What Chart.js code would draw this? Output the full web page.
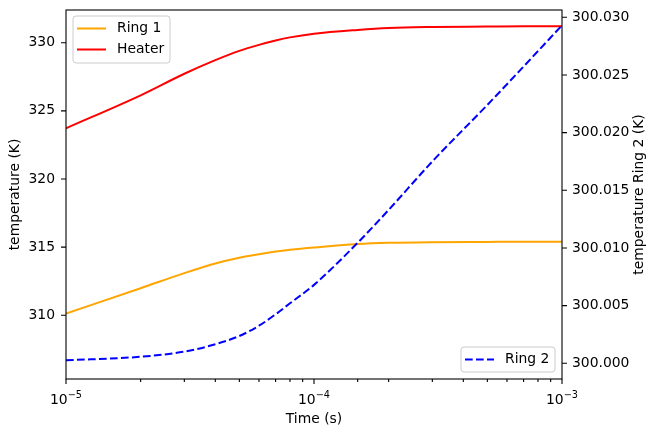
<!DOCTYPE html>
<html>
<head>
<meta charset="utf-8">
<script src="https://cdn.jsdelivr.net/npm/chart.js@4"></script>
<style>
  html, body { margin: 0; padding: 0; background: #fff; }
</style>
</head>
<body>
<canvas id="chart" width="657" height="437"></canvas>
<script>
// time samples (s) and temperatures
const timeS  = [1e-5, 2e-5, 3e-5, 4e-5, 5e-5, 6e-5, 7e-5, 8e-5, 1e-4, 1.5e-4, 2e-4, 3e-4, 5e-4, 7e-4, 1e-3];
const heater = [323.72, 326.14, 327.72, 328.72, 329.4, 329.84, 330.16, 330.39, 330.66, 330.94, 331.08, 331.15, 331.18, 331.2, 331.2];
const ring1  = [310.12, 311.98, 313.09, 313.8, 314.22, 314.48, 314.67, 314.8, 314.97, 315.22, 315.31, 315.36, 315.38, 315.39, 315.39];
const ring2  = [300.00026, 300.00057, 300.00101, 300.00165, 300.00237, 300.00326, 300.00425, 300.0052, 300.0068, 300.01045, 300.0133, 300.0175, 300.0224, 300.02573, 300.0293];

const leftTicks  = [310, 315, 320, 325, 330];
const rightTicks = [300.000, 300.005, 300.010, 300.015, 300.020, 300.025, 300.030];

const xTitle = 'Time (s)';
const yTitle = 'temperature (K)';
const y2Title = 'temperature Ring 2 (K)';

const FONT_SIZE = 13.9;
const FONT = FONT_SIZE + 'px "DejaVu Sans"';
const SUP_FONT = (FONT_SIZE * 0.7).toFixed(2) + 'px "DejaVu Sans"';

function isMajor(v) {
  const e = Math.log10(v);
  return Math.abs(e - Math.round(e)) < 1e-6;
}

function pairs(ys) {
  return timeS.map((t, i) => ({ x: t, y: ys[i] }));
}

// draws the frame, tick marks, 10^n labels and the right axis title
const frameAndTicks = {
  id: 'frameAndTicks',
  afterDatasetsDraw(chart) {
    const { ctx, chartArea: a, scales } = chart;
    ctx.save();
    ctx.strokeStyle = '#000';
    ctx.lineWidth = 1.1;
    ctx.strokeRect(a.left, a.top, a.right - a.left, a.bottom - a.top);
    ctx.beginPath();
    scales.x.ticks.forEach(t => {
      const px = scales.x.getPixelForValue(t.value);
      const len = isMajor(t.value) ? 5 : 3;
      ctx.moveTo(px, a.bottom);
      ctx.lineTo(px, a.bottom + len);
    });
    scales.y.ticks.forEach(t => {
      const py = scales.y.getPixelForValue(t.value);
      ctx.moveTo(a.left - 5, py);
      ctx.lineTo(a.left, py);
    });
    scales.y2.ticks.forEach(t => {
      const py = scales.y2.getPixelForValue(t.value);
      ctx.moveTo(a.right, py);
      ctx.lineTo(a.right + 5, py);
    });
    ctx.stroke();

    ctx.fillStyle = '#000';
    ctx.textBaseline = 'alphabetic';
    ctx.textAlign = 'left';
    scales.x.ticks.forEach(t => {
      if (!isMajor(t.value)) return;
      const px = scales.x.getPixelForValue(t.value);
      const exp = '\u2212' + String(-Math.round(Math.log10(t.value)));
      ctx.font = FONT;
      const w1 = ctx.measureText('10').width;
      ctx.font = SUP_FONT;
      const w2 = ctx.measureText(exp).width;
      const x0 = px - (w1 + w2) / 2;
      ctx.font = FONT;
      ctx.fillText('10', x0, a.bottom + 25);
      ctx.font = SUP_FONT;
      ctx.fillText(exp, x0 + w1, a.bottom + 19);
    });

    ctx.font = FONT;
    ctx.textAlign = 'center';
    ctx.textBaseline = 'middle';
    ctx.translate(639, (a.top + a.bottom) / 2);
    ctx.rotate(-Math.PI / 2);
    ctx.fillText(y2Title, 0, 0);
    ctx.restore();
  }
};

function drawLegend(ctx, x, y, w, h, items) {
  ctx.save();
  ctx.beginPath();
  ctx.roundRect(x, y, w, h, 3);
  ctx.fillStyle = 'rgba(255,255,255,0.8)';
  ctx.fill();
  ctx.strokeStyle = '#cccccc';
  ctx.lineWidth = 1;
  ctx.stroke();
  items.forEach((ds, i) => {
    const ly = y + 12.5 + i * 21;
    ctx.strokeStyle = ds.borderColor;
    ctx.lineWidth = 2;
    ctx.setLineDash(ds.borderDash || []);
    ctx.beginPath();
    ctx.moveTo(x + 4, ly);
    ctx.lineTo(x + 33, ly);
    ctx.stroke();
    ctx.setLineDash([]);
    ctx.fillStyle = '#000';
    ctx.font = FONT;
    ctx.textAlign = 'left';
    ctx.textBaseline = 'middle';
    ctx.fillText(ds.label, x + 44, ly);
  });
  ctx.restore();
}

const legends = {
  id: 'legends',
  afterDraw(chart) {
    const { ctx, chartArea: a } = chart;
    const ds = chart.data.datasets;
    drawLegend(ctx, a.left + 7, a.top + 6, 97, 47, [ds[1], ds[2]]);
    drawLegend(ctx, a.right - 101, a.bottom - 32, 94, 25, [ds[0]]);
  }
};

Chart.defaults.color = '#000';
Chart.defaults.font.family = '"DejaVu Sans"';
Chart.defaults.font.size = FONT_SIZE;

const lineStyle = { borderWidth: 2, pointRadius: 0, cubicInterpolationMode: 'monotone' };

new Chart(document.getElementById('chart'), {
  type: 'line',
  data: {
    datasets: [
      { ...lineStyle, label: 'Ring 2', data: pairs(ring2), yAxisID: 'y2', borderColor: '#0000ff', borderDash: [7.7, 3.3], order: 0 },
      { ...lineStyle, label: 'Ring 1', data: pairs(ring1), yAxisID: 'y', borderColor: '#ffa500', order: 1 },
      { ...lineStyle, label: 'Heater', data: pairs(heater), yAxisID: 'y', borderColor: '#ff0000', order: 1 }
    ]
  },
  options: {
    responsive: false,
    animation: false,
    layout: { padding: { top: 10, left: 0, right: 0, bottom: 0 } },
    plugins: {
      legend: { display: false },
      tooltip: { enabled: false }
    },
    scales: {
      x: {
        type: 'logarithmic',
        position: 'bottom',
        min: 1e-5,
        max: 1e-3,
        grid: { display: false, drawTicks: false },
        border: { display: false },
        ticks: { autoSkip: false, maxRotation: 0, callback: () => '' },
        title: { display: true, text: xTitle, padding: { top: 0, bottom: 9 } },
        afterFit: (s) => { s.height = 58; s.paddingLeft = 0; s.paddingRight = 0; }
      },
      y: {
        position: 'left',
        min: 305.32,
        max: 332.4,
        grid: { display: false, drawTicks: false },
        border: { display: false },
        ticks: { padding: 11 },
        afterBuildTicks: (s) => { s.ticks = leftTicks.map(v => ({ value: v })); },
        title: { display: true, text: yTitle, padding: { top: 7, bottom: 0 } },
        afterFit: (s) => { s.width = 66; s.paddingTop = 0; s.paddingBottom = 0; }
      },
      y2: {
        position: 'right',
        min: 299.99864,
        max: 300.03063,
        grid: { display: false, drawTicks: false },
        border: { display: false },
        ticks: { padding: 10, callback: (v) => v.toFixed(3) },
        afterBuildTicks: (s) => { s.ticks = rightTicks.map(v => ({ value: v })); },
        afterFit: (s) => { s.width = 95; s.paddingTop = 0; s.paddingBottom = 0; }
      }
    }
  },
  plugins: [frameAndTicks, legends]
});
</script>
</body>
</html>
